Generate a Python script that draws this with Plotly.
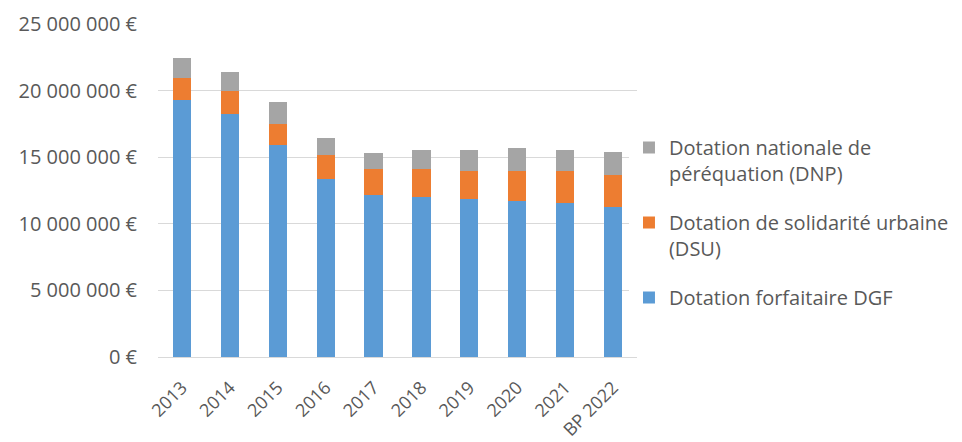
import plotly.graph_objects as go

years = ["2013", "2014", "2015", "2016", "2017", "2018", "2019", "2020", "2021", "BP 2022"]
dgf = [19330000, 18280000, 15880000, 13330000, 12130000, 11980000, 11830000, 11680000, 11530000, 11230000]
dsu = [1650000, 1670000, 1650000, 1800000, 1950000, 2100000, 2100000, 2250000, 2400000, 2400000]
dnp = [1500000, 1450000, 1620000, 1320000, 1200000, 1470000, 1620000, 1770000, 1620000, 1770000]

tick_vals = [0, 5000000, 10000000, 15000000, 20000000, 25000000]
tick_text = ["0 €", "5 000 000 €", "10 000 000 €", "15 000 000 €", "20 000 000 €", "25 000 000 €"]

names = ["Dotation forfaitaire DGF", "Dotation de solidarité urbaine<br>(DSU)",
         "Dotation nationale de<br>péréquation (DNP)"]
colors = ["#5B9BD5", "#ED7D31", "#A5A5A5"]
ranks = [3, 2, 1]

fig = go.Figure()
for i, (vals, name, col) in enumerate(zip([dgf, dsu, dnp], names, colors)):
    fig.add_trace(go.Bar(x=years, y=vals, name=name, legendgroup=f"g{i}", legendrank=ranks[i],
                         marker=dict(color=col, line=dict(width=0))))

fig.update_layout(
    barmode="stack",
    bargap=0.62,
    width=962, height=442,
    margin=dict(l=150, r=333, t=16, b=93, autoexpand=False),
    paper_bgcolor="white", plot_bgcolor="white",
    font=dict(family="Open Sans", size=20, color="#595959"),
    xaxis=dict(tickangle=-45, showgrid=False, showline=True, linecolor="#D9D9D9", linewidth=1,
               ticks="", tickfont=dict(size=18), ticklabelstandoff=12, automargin=False),
    yaxis=dict(range=[0, 25000000], tickvals=tick_vals, ticktext=tick_text,
               showgrid=True, gridcolor="#D9D9D9", gridwidth=1, zeroline=False,
               ticks="", tickfont=dict(size=20), ticklabelstandoff=20, automargin=False),
    legend=dict(xref="container", yref="container", x=0.6455, y=0.7285,
                xanchor="left", yanchor="top", traceorder="grouped",
                valign="top",
                font=dict(size=20, color="#595959"), itemwidth=30, tracegroupgap=20),
    showlegend=True,
)

fig.write_html("out.html")
